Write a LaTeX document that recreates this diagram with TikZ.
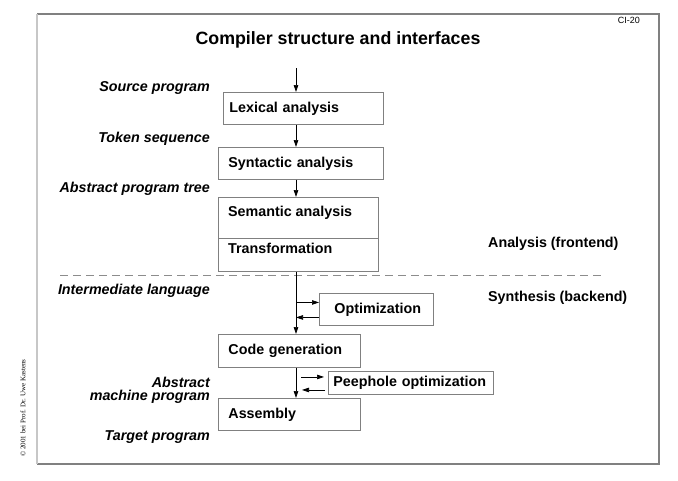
\documentclass[tikz,border=0pt]{standalone}
\usepackage{fontspec}
\setmainfont{Liberation Sans}
\newfontfamily\serifcopy{Liberation Serif}
\usetikzlibrary{arrows.meta,calc}
\definecolor{boxgray}{gray}{0.5}
\definecolor{framegray}{gray}{0.5}
\definecolor{frameleft}{gray}{0.78}
\definecolor{dashgray}{gray}{0.55}
\tikzset{
  lbl/.style={font=\bfseries\itshape\fontsize{14.3}{16}\selectfont, anchor=east, inner sep=0pt},
  rlbl/.style={font=\bfseries\fontsize{14.3}{16}\selectfont, anchor=west, inner sep=0pt},
  box/.style={draw=boxgray, line width=0.9pt, anchor=north west, inner ysep=0pt,
              font=\bfseries\fontsize{14.3}{16}\selectfont, align=left},
  txt/.style={font=\bfseries\fontsize{14.3}{16}\selectfont, anchor=west, inner sep=0pt},
  arr/.style={line width=0.7pt, -{Triangle[length=7pt,width=4.5pt]}},
}
\begin{document}
\begin{tikzpicture}[x=1pt,y=-1pt]
\useasboundingbox (0,0) rectangle (678,480);
% frame
\draw[framegray, line width=1.1pt] (37,14) -- (659,14) -- (659,464) -- (37,464);
\draw[frameleft, line width=1.1pt] (37,14) -- (37,464);
% title etc.
\node[font=\bfseries\fontsize{17.8}{20}\selectfont, inner sep=0pt] (title) at (338,40) {Compiler structure and interfaces};
\node[font=\fontsize{9}{10}\selectfont, inner sep=0pt, anchor=east] (ci) at (640,20) {CI-20};
\node[font=\serifcopy\fontsize{7}{8}\selectfont, rotate=90, anchor=west, inner sep=0pt] (copy) at (23,457) {© 2001 bei Prof. Dr. Uwe Kastens};

% boxes
\node[box, minimum height=32pt, text width=148pt, inner xsep=6pt] (lex) at (223,92) {Lexical analysis};
\node[box, minimum height=32pt, text width=145pt, inner xsep=10pt] (syn) at (218,147) {Syntactic analysis};
\node[draw=boxgray, line width=0.9pt, anchor=north west, inner sep=0pt, minimum width=160pt, minimum height=74pt] (sema) at (218,197) {};
\draw[boxgray, line width=0.9pt] ($(sema.north west)+(0,41)$) coordinate (dvl) -- (dvl -| sema.east);
\node[txt] (semt) at (228,213) {Semantic analysis};
\node[txt] (trant) at (228,248) {Transformation};
\node[box, minimum height=32pt, text width=84pt, inner xsep=15pt] (opt) at (319,293) {Optimization};
\node[box, minimum height=33pt, text width=122pt, inner xsep=10pt] (code) at (218,334) {Code generation};
\node[box, minimum height=23pt, text width=155pt, inner xsep=5pt] (peep) at (328,371) {Peephole optimization};
\node[box, minimum height=32pt, text width=122pt, inner xsep=10pt] (asm) at (218,398) {Assembly};

% left labels
\node[lbl] (l1) at (210,88) {Source program};
\node[lbl] (l2) at (210,139) {Token sequence};
\node[lbl] (l3) at (210,189) {Abstract program tree};
\node[lbl] (l4) at (210,291) {Intermediate language};
\node[lbl] (l5) at (210,382) {Abstract};
\node[lbl] (l6) at (210,397) {machine program};
\node[lbl] (l7) at (210,437) {Target program};

% right labels
\node[rlbl] (ra) at (488,244) {Analysis (frontend)};
\node[rlbl] (rs) at (488,298) {Synthesis (backend)};

% dashed separator
\coordinate (dl) at (60,275);
\coordinate (dr) at (605,275);
\draw[dashgray, line width=0.8pt, dash pattern=on 8pt off 5pt] (dl) -- (dr);

% trunk
\coordinate (top) at (296,68);
\draw[arr] (top) -- (top |- lex.north);
\draw[arr] (lex.south -| top) -- (syn.north -| top);
\draw[arr] (syn.south -| top) -- (sema.north -| top);
\draw[arr] (sema.south -| top) -- (code.north -| top);
\draw[arr] (code.south -| top) -- (asm.north -| top);

% optimization loop
\draw[arr] ($(opt.west -| top)+(0,-7)$) -- ($(opt.west)+(0,-7)$);
\draw[arr] ($(opt.west)+(0,8)$) -- ($(opt.west -| top)+(0,8)$);
% peephole loop
\draw[arr] ($(peep.west -| top)+(5,-6)$) -- ($(peep.west)+(-4,-6)$);
\draw[arr] ($(peep.west)+(-3,7)$) -- ($(peep.west -| top)+(6,7)$);
\end{tikzpicture}
\end{document}
